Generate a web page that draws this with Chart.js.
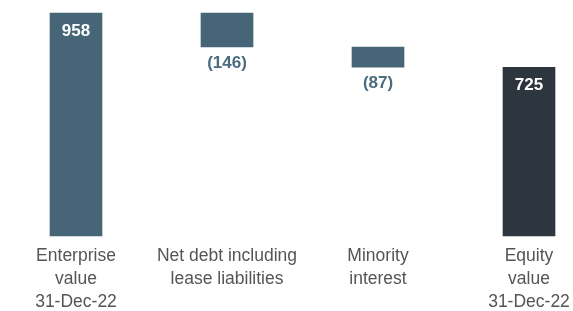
<!DOCTYPE html>
<html>
<head>
<meta charset="utf-8">
<script src="https://cdn.jsdelivr.net/npm/chart.js@4/dist/chart.umd.min.js"></script>
<style>
  html, body { margin: 0; padding: 0; background: #fff; }
  #wrap { width: 573px; height: 311px; }
</style>
</head>
<body>
<div id="wrap"><canvas id="bridge"></canvas></div>
<script>
// Данни за моста EV -> Equity
const categories = [
    ['Enterprise', 'value', '31-Dec-22'],
    ['Net debt including', 'lease liabilities'],
    ['Minority', 'interest'],
    ['Equity', 'value', '31-Dec-22']
];
const values = [958, -146, -87, 725];
const valueLabels = ['958', '(146)', '(87)', '725'];
const isTotal = [true, false, false, true];

const barColors = ['#466678', '#466678', '#466678', '#2d363f'];
const labelFont = '"Liberation Sans", Arial, Helvetica, sans-serif';

// Строим плаващите стълбове
let running = 0;
const floating = values.map((v, i) => {
    if (isTotal[i]) {
        running = v;
        return [0, v];
    }
    const start = running;
    running += v;
    return [running, start];
});

// Етикети със стойностите
const valueLabelPlugin = {
    id: 'valueLabels',
    afterDatasetsDraw(chart) {
        const ctx = chart.ctx;
        const meta = chart.getDatasetMeta(0);
        ctx.save();
        ctx.font = 'bold 17px ' + labelFont;
        ctx.textAlign = 'center';
        ctx.textBaseline = 'middle';
        meta.data.forEach((bar, i) => {
            const top = Math.min(bar.y, bar.base);
            const bottom = Math.max(bar.y, bar.base);
            if (isTotal[i]) {
                ctx.fillStyle = '#ffffff';
                ctx.fillText(valueLabels[i], bar.x, top + 18);
            } else {
                ctx.fillStyle = '#4b6b7f';
                ctx.fillText(valueLabels[i], bar.x, bottom + 16.5);
            }
        });
        ctx.restore();
    }
};

new Chart(document.getElementById('bridge'), {
    type: 'bar',
    data: {
        labels: categories,
        datasets: [{
            data: floating,
            backgroundColor: barColors,
            borderWidth: 0,
            barThickness: 52,
            clip: false
        }]
    },
    options: {
        responsive: true,
        maintainAspectRatio: false,
        animation: false,
        layout: {
            padding: { top: 13, left: 76, right: 44, bottom: -12 }
        },
        plugins: {
            legend: { display: false },
            tooltip: { enabled: false }
        },
        scales: {
            x: {
                offset: false,
                grid: { display: false, drawTicks: false },
                border: { display: false },
                afterFit(scale) {
                    // етикетите да не стесняват областта
                    scale.paddingLeft = 0;
                    scale.paddingRight = 0;
                },
                ticks: {
                    padding: 9,
                    maxRotation: 0,
                    autoSkip: false,
                    color: '#555555',
                    font: { family: labelFont, size: 17.5, lineHeight: '23px' }
                }
            },
            y: {
                display: false,
                min: 0,
                max: 958
            }
        }
    },
    plugins: [valueLabelPlugin]
});
</script>
</body>
</html>
